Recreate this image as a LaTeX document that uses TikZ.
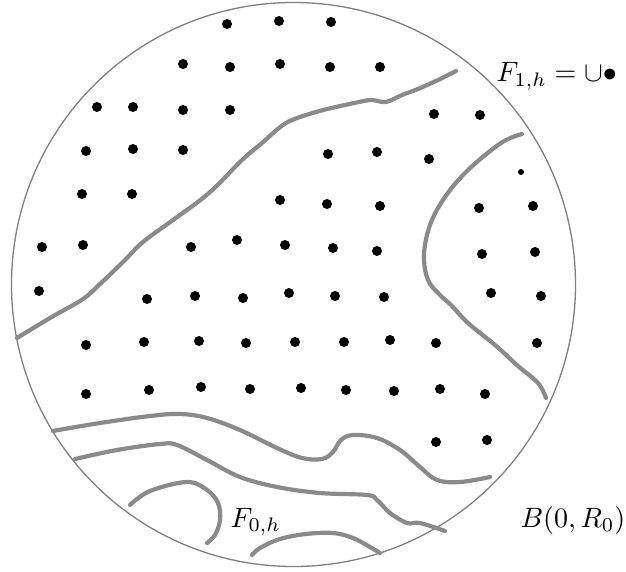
\documentclass[tikz,border=0pt]{standalone}
\usetikzlibrary{positioning}
\definecolor{cRim}{HTML}{808080}
\definecolor{cCurve}{HTML}{8A8A8A}

\begin{document}
\begin{tikzpicture}[x=1pt,y=-1pt,
  rim/.style={draw=cRim,line width=1.3pt},
  curve/.style={draw=cCurve,line width=4.2pt,line cap=round,line join=round},
  dot/.style={fill=black},
  lbl/.style={anchor=base west,inner sep=0pt,scale=2.8}]
\path[use as bounding box] (0,0) rectangle (626,572);
\draw[rim] (293.5,284.5) circle[radius=282pt];
\foreach \x/\y in {227/24,279/21,331/22,
  183/64,230/67,280/64,330/67,380/67,
  97/107,133/107,183/110,230/110,434/114,480/115,
  86/151,133/149,183/150,328/154,377/152,429/159,
  82/194,132/194,280/200,327/204,380/206,479/208,533/206,
  42/247,83/245,191/247,237/240,285/245,333/248,377/251,482/254,535/252,
  39/291,147/299,195/296,243/298,289/293,335/296,384/297,491/293,541/296,
  86/345,144/342,199/341,246/343,295/342,344/342,390/340,436/343,537/343,
  86/394,149/390,201/387,250/389,301/388,346/390,394/391,440/389,485/394,
  436/442,487/440}{
  \fill[dot] (\x,\y) circle[radius=5pt];
}
\fill[dot] (521,172) circle[radius=3pt];
\draw[curve] plot[smooth,tension=.6] coordinates {(17,338) (50,318) (83,299) (100,284)
  (123,262) (143,242) (173,220) (209,193) (242,160) (262,143) (279,128) (292,120)
  (316,112) (336,107) (359,102) (372,100) (386,102) (402,95) (418,89) (438,80) (456,71)};
\draw[curve] plot[smooth,tension=.6] coordinates {(522,134) (501,143) (468,170) (445,197)
  (430,225) (424,255) (428,280) (440,295) (451,305) (468,323) (495,345) (518,366)
  (538,383) (546,398)};
\draw[curve] plot[smooth,tension=.6] coordinates {(53,431) (100,423) (150,416) (180,414)
  (207,418) (240,430) (277,448) (302,458) (322,459) (333,452) (341,440) (353,435)
  (377,438) (400,450) (420,467) (437,480) (460,482) (490,477)};
\draw[curve] plot[smooth,tension=.6] coordinates {(75,459) (117,450) (160,444) (177,445)
  (207,460) (240,477) (277,487) (320,493) (367,495) (377,500) (390,513) (407,523)
  (420,523) (445,531)};
\draw[curve] plot[smooth,tension=.6] coordinates {(130,505) (150,491) (187,482) (207,490)
  (218,503) (220,520) (215,535) (207,543)};
\draw[curve] plot[smooth,tension=.6] coordinates {(252,555) (260,548) (280,539) (306,534)
  (333,533) (353,538) (370,547) (380,553)};
\node[lbl] (fOne) at (496,82) {$F_{1,h}=\cup\bullet$};
\node[lbl] (fZero) at (230,527) {$F_{0,h}$};
\node[lbl] (ball) at (520,527) {$B(0,R_0)$};
\end{tikzpicture}
\end{document}
